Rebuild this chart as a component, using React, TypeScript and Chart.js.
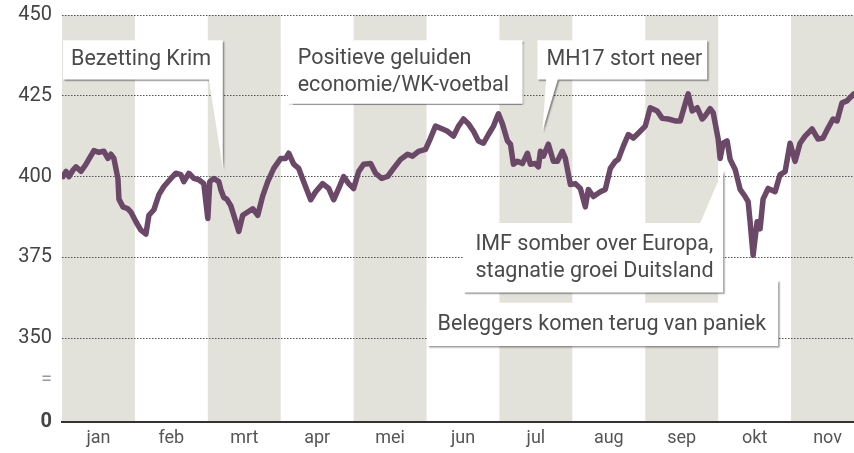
import React, { useEffect, useRef } from 'react';
import { Chart, registerables } from 'chart.js';

Chart.register(...registerables);

// Month labels (each month is one unit on the x axis)
const MONTHS = ['jan', 'feb', 'mrt', 'apr', 'mei', 'jun', 'jul', 'aug', 'sep', 'okt', 'nov'];

// Position of each reading, in months since 1 January
const X_MONTH = [
  0.014, 0.055, 0.096, 0.151, 0.192, 0.26, 0.329, 0.438, 0.507, 0.575, 0.63, 0.671, 0.712, 0.767, 0.781,
  0.836, 0.904, 0.945, 1.014, 1.082, 1.151, 1.192, 1.26, 1.329, 1.397, 1.493, 1.562, 1.63, 1.671, 1.74,
  1.808, 1.877, 1.945, 2.0, 2.027, 2.082, 2.151, 2.178, 2.219, 2.26, 2.315, 2.384, 2.425, 2.479, 2.548,
  2.616, 2.685, 2.753, 2.822, 2.904, 3.0, 3.068, 3.11, 3.178, 3.247, 3.315, 3.411, 3.479, 3.575, 3.658,
  3.726, 3.795, 3.863, 3.932, 4.0, 4.068, 4.137, 4.233, 4.301, 4.384, 4.466, 4.548, 4.644, 4.74, 4.808,
  4.89, 4.986, 5.055, 5.123, 5.219, 5.288, 5.37, 5.438, 5.507, 5.575, 5.644, 5.712, 5.781, 5.849, 5.918,
  5.986, 6.041, 6.11, 6.151, 6.192, 6.247, 6.315, 6.384, 6.425, 6.493, 6.534, 6.562, 6.603, 6.671, 6.74,
  6.795, 6.863, 6.904, 6.973, 7.041, 7.11, 7.178, 7.219, 7.288, 7.384, 7.452, 7.521, 7.589, 7.63, 7.699,
  7.767, 7.836, 7.904, 8.0, 8.068, 8.164, 8.233, 8.315, 8.411, 8.479, 8.548, 8.589, 8.644, 8.712, 8.781,
  8.822, 8.89, 8.932, 9.0, 9.027, 9.068, 9.123, 9.164, 9.233, 9.301, 9.37, 9.411, 9.438, 9.479, 9.534,
  9.575, 9.616, 9.685, 9.781, 9.849, 9.918, 9.986, 10.055, 10.123, 10.192, 10.288, 10.37, 10.438, 10.507,
  10.575, 10.63, 10.699, 10.767, 10.808, 10.863,
];

// Index value at each reading
const VALUES = [
  400, 401.6, 400, 402, 403, 401.6, 403.8, 408, 407.5, 407.8, 405.6, 406.9, 405.6, 399.4, 393,
  390.6, 390, 389, 386, 383.4, 382.2, 388, 389.7, 394.4, 396.9, 399.4, 401, 400.6, 398.4, 401,
  399.4, 399, 397.8, 387, 398.4, 399.4, 398.4, 396, 393.5, 393, 391, 386, 383, 388, 389,
  390, 388, 394, 398.4, 402.5, 405.6, 405.6, 407.2, 403.8, 402.5, 398.4, 392.8, 395.3, 397.8, 396.3,
  392.8, 396.3, 400, 397.8, 396.3, 401.5, 403.8, 404, 401, 399.4, 400, 402.5, 405.3, 406.9, 406.3,
  407.8, 408.4, 411.9, 415.6, 414.7, 414, 412.5, 415.6, 417.8, 416.3, 414, 411, 410.3, 413, 415.6,
  419.4, 416.3, 411, 410, 403.8, 404.7, 404, 407.2, 403.8, 404, 403, 407.8, 406.3, 410, 404.7,
  404.7, 407.8, 405.6, 397.5, 397.8, 396.3, 390.6, 396, 393.8, 395.3, 396, 402.5, 404.7, 405.3, 409.4,
  413, 411.9, 413.4, 415.6, 421.3, 420.3, 418, 417.8, 417.2, 417.2, 422.5, 425.6, 420.3, 421.3, 417.8,
  418.8, 421, 419.7, 411.6, 405.6, 410.3, 411, 405.3, 402.2, 396, 393.8, 392.2, 386, 375.6, 386,
  383.8, 393, 396.3, 395.3, 400.6, 401.5, 410.3, 404.7, 410.3, 412.5, 414.7, 411.6, 411.9, 415,
  417.8, 417.2, 422.8, 423.4, 424.4, 425.6,
];

// Broken value axis: "0" at the bottom, a break mark, then 350 ... 450
const Y_TICKS = [324, 337, 350, 375, 400, 425, 450];
const Y_LABELS = ['0', '=', '350', '375', '400', '425', '450'];
const Y_MIN = 324;
const Y_MAX = 450;
const X_MAX = 10.863;

// Callout boxes, in data units (months, index value)
type Note = { lines: string[]; shape: [number, number][]; textX: number; padX: number };
const NOTES: Note[] = [
  {
    lines: ['Bezetting Krim'],
    shape: [[0.014, 442.2], [2.205, 442.2], [2.205, 402.5], [2.014, 430], [0.014, 430]],
    textX: 0.014, padX: 8,
  },
  {
    lines: ['Positieve geluiden', 'economie/WK-voetbal'],
    shape: [[3.096, 442.2], [6.315, 442.2], [6.315, 422.5], [3.096, 422.5]],
    textX: 3.096, padX: 10,
  },
  {
    lines: ['MH17 stort neer'],
    shape: [[6.521, 442.2], [8.849, 442.2], [8.849, 430], [6.8, 430], [6.589, 414], [6.64, 430], [6.521, 430]],
    textX: 6.521, padX: 9,
  },
  {
    lines: ['IMF somber over Europa,', 'stagnatie groei Duitsland'],
    shape: [[5.507, 385.6], [8.753, 385.6], [9.068, 402.2], [9.068, 364.1], [5.507, 364.1]],
    textX: 5.507, padX: 12,
  },
  {
    lines: ['Beleggers komen terug van paniek'],
    shape: [[5.014, 360.9], [9.507, 360.9], [9.822, 368.1], [9.822, 347.5], [5.014, 347.5]],
    textX: 5.014, padX: 10,
  },
];

const FONT = 'Roboto, "Noto Sans", sans-serif';
const BAND = '#e3e2da';
const LINE = '#6b4868';
const TEXT = '#4a4a4a';

const bandsPlugin = {
  id: 'bands',
  beforeDraw(chart: any) {
    const { ctx, chartArea, scales } = chart;
    ctx.save();
    ctx.fillStyle = '#ffffff';
    ctx.fillRect(0, 0, chart.width, chart.height);
    ctx.fillStyle = BAND;
    for (let i = 0; i < MONTHS.length; i += 2) {
      const a = Math.max(scales.x.getPixelForValue(i), chartArea.left);
      const b = Math.min(scales.x.getPixelForValue(i + 1), chartArea.right);
      ctx.fillRect(a, chartArea.top, b - a, chartArea.bottom - chartArea.top);
    }
    ctx.restore();
  },
};

const notesPlugin = {
  id: 'notes',
  beforeDatasetsDraw(chart: any) {
    const { ctx, scales } = chart;
    const px = (v: number) => scales.x.getPixelForValue(v);
    const py = (v: number) => scales.y.getPixelForValue(v);
    NOTES.forEach((n) => {
      ctx.save();
      ctx.beginPath();
      n.shape.forEach(([x, y], i) => {
        if (i === 0) ctx.moveTo(px(x), py(y));
        else ctx.lineTo(px(x), py(y));
      });
      ctx.closePath();
      ctx.shadowColor = 'rgba(0,0,0,0.4)';
      ctx.shadowOffsetX = 1.5;
      ctx.shadowOffsetY = 1.5;
      ctx.shadowBlur = 1.5;
      ctx.fillStyle = '#ffffff';
      ctx.fill();
      ctx.restore();

      // text, centred vertically in the rectangular part of the box
      const top = py(n.shape[0][1]);
      const rectBottom = py(n.shape[n.shape.length - 1][1]);
      const mid = (top + rectBottom) / 2;
      ctx.save();
      ctx.fillStyle = TEXT;
      ctx.font = `21.5px ${FONT}`;
      ctx.textBaseline = 'middle';
      ctx.textAlign = 'left';
      n.lines.forEach((line, i) => {
        const y = mid + (i - (n.lines.length - 1) / 2) * 27;
        ctx.fillText(line, px(n.textX) + n.padX, y);
      });
      ctx.restore();
    });
  },
};

export default function App() {
  const ref = useRef<HTMLCanvasElement | null>(null);

  useEffect(() => {
    if (!ref.current) return;
    const chart = new Chart(ref.current, {
      type: 'line',
      data: {
        datasets: [
          {
            data: X_MONTH.map((x, i) => ({ x, y: VALUES[i] })),
            borderColor: LINE,
            borderWidth: 5.5,
            pointRadius: 0,
            tension: 0,
            borderJoinStyle: 'round',
            borderCapStyle: 'round',
            fill: false,
          },
        ],
      },
      options: {
        animation: false,
        responsive: false,
        maintainAspectRatio: false,
        layout: { padding: { top: 15, left: 0, right: 0, bottom: 0 } },
        plugins: { legend: { display: false }, tooltip: { enabled: false } },
        scales: {
          x: {
            type: 'linear',
            min: 0,
            max: X_MAX,
            afterBuildTicks: (scale: any) => {
              scale.ticks = MONTHS.map((_, i) => ({ value: i + 0.5 }));
            },
            afterFit: (scale: any) => {
              scale.height = 31;
              scale.paddingLeft = 0;
              scale.paddingRight = 0;
            },
            ticks: {
              autoSkip: false,
              maxRotation: 0,
              padding: 6,
              color: '#555',
              font: { family: FONT, size: 18 },
              callback: (v: any) => MONTHS[Math.floor(Number(v))] ?? '',
            },
            grid: { display: false, drawTicks: false },
            border: { display: true, color: '#333', width: 2 },
          },
          y: {
            type: 'linear',
            min: Y_MIN,
            max: Y_MAX,
            afterBuildTicks: (scale: any) => {
              scale.ticks = Y_TICKS.map((v) => ({ value: v }));
            },
            afterFit: (scale: any) => {
              scale.width = 62;
              scale.paddingTop = 0;
              scale.paddingBottom = 0;
            },
            ticks: {
              padding: 10,
              color: (c: any) => (c.tick && c.tick.value === 337 ? '#999' : '#444'),
              font: (c: any) =>
                c.tick && c.tick.value === Y_MIN
                  ? { family: FONT, size: 20, weight: 'bold' }
                  : { family: FONT, size: 20 },
              callback: (v: any) => {
                const idx = Y_TICKS.indexOf(Number(v));
                return idx >= 0 ? Y_LABELS[idx] : '';
              },
            },
            grid: {
              drawTicks: false,
              lineWidth: 1,
              color: (c: any) => (c.tick && c.tick.value >= 350 ? '#555' : 'rgba(0,0,0,0)'),
            },
            border: { display: false, dash: [1.5, 1.5] },
          },
        },
      },
      plugins: [bandsPlugin, notesPlugin],
    });
    return () => chart.destroy();
  }, []);

  return (
    <div style={{ position: 'fixed', left: 0, top: 0, width: 854, height: 453, background: '#fff' }}>
      <canvas ref={ref} width={854} height={453} style={{ display: 'block' }} />
    </div>
  );
}
